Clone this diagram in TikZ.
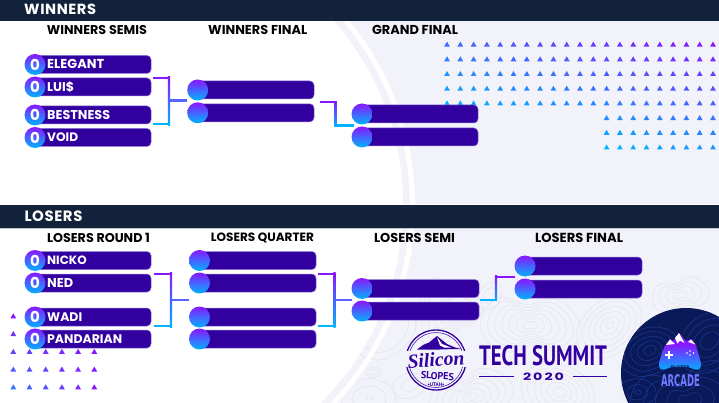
\documentclass[tikz,border=0pt]{standalone}
\usepackage{fontspec}
\setmainfont{Poppins}
\newfontfamily\narrowf{PT Sans}
\newfontfamily\heavyf{DejaVu Sans}
\newfontfamily\scriptf{Liberation Serif}
\newfontfamily\spacedf[LetterSpace=4]{Poppins}
\newfontfamily\widef[LetterSpace=14]{Poppins}
\usetikzlibrary{calc}
\definecolor{navy}{HTML}{12223A}
\definecolor{lav}{HTML}{F2F3FA}
\definecolor{barc}{HTML}{3300A0}
\definecolor{barb}{HTML}{8F78DC}
\definecolor{gpur}{HTML}{8A16FF}
\definecolor{gcya}{HTML}{00B4FF}
\definecolor{gmid}{HTML}{5A62FF}
\definecolor{cont}{HTML}{E0E1EA}
\definecolor{dcont}{HTML}{1E3A9E}
\definecolor{disc}{HTML}{0A1A58}
\tikzset{
  slotbar/.style={draw=barb,line width=.5pt,fill=barc,rounded corners=4pt,inner sep=0pt,outer sep=0pt,minimum height=18pt,anchor=west},
  slotdot/.style={circle,top color=gpur,bottom color=gcya,draw=none,inner sep=0pt,outer sep=0pt,minimum size=21pt},
  scoretxt/.style={text=white,font=\bfseries\fontsize{15}{15}\selectfont,inner sep=0pt},
  nametxt/.style={text=white,anchor=west,inner sep=0pt},
  coltitle/.style={text=black,inner sep=0pt},
  headtxt/.style={text=white,anchor=west,inner sep=0pt},
  wiretop/.style={draw=gpur,line width=2.2pt},
  wirebot/.style={draw=gcya,line width=2.2pt},
  wirestem/.style={draw=gmid,line width=2.2pt},
  contour/.style={draw=cont,line width=.45pt},
  dcontour/.style={draw=dcont,line width=.45pt},
  logoc/.style={text=barc,inner sep=0pt},
}
\newcommand{\fitw}[2]{\resizebox{#1pt}{!}{\bfseries #2}}
% name, circle x, y, bar end x
\newcommand{\slotrow}[4]{%
  \pgfmathsetmacro{\barw}{#4-#2}%
  \node[slotbar,minimum width=\barw pt] (#1) at (#2,#3) {};%
  \node[slotdot] (#1c) at (#2,#3) {};}
% name, y, label, width
\newcommand{\scorerow}[4]{%
  \slotrow{#1}{35}{#2}{151}%
  \node[scoretxt] (#1s) at (35,#2) {0};%
  \node[nametxt] (#1t) at (47,#2-.3) {\fitw{#4}{#3}};}
\newcommand{\tri}[3]{\fill[#3] (#1-2.9,#2+2.3) -- (#1+2.9,#2+2.3) -- (#1,#2-2.7) -- cycle;}
\newcommand{\blob}[4]{\foreach \s in {#4}{\draw[#3,shift={(#1)},rotate=#2,scale=\s] plot[smooth cycle,tension=.8] coordinates{(20,0)(14,11)(-3,16)(-18,10)(-21,-5)(-7,-14)(11,-12)};}}
\newcommand{\blobb}[4]{\foreach \s in {#4}{\draw[#3,shift={(#1)},rotate=#2,scale=\s] plot[smooth cycle,tension=.8] coordinates{(24,-4)(18,8)(4,9)(-8,15)(-22,8)(-19,-8)(-4,-9)(10,-15)};}}
\begin{document}
\begin{tikzpicture}[x=1pt,y=-1pt]
\useasboundingbox (0,0) rectangle (719,403);
\begin{scope}
\clip (0,0) rectangle (719,403);
\fill[lav] (0,0) rectangle (719,403);
% white disc
\fill[white] (124,205) circle (279);
% contours outside disc
\begin{scope}[even odd rule]
\clip (320,272) rectangle (719,403);
\clip (0,0) rectangle (719,403) (124,205) circle (279);
\blob{374,372}{0}{contour}{.2,.35}
\blob{385,330}{30}{contour}{1.2,1.6}
\blobb{448,318}{20}{contour}{.3,.6,.9,1.2,1.5}
\blob{370,398}{0}{contour}{.15,.8,1.3}
\blobb{530,325}{-15}{contour}{.3,.6,.9,1.2,1.5,1.8,2.1}
\blob{610,325}{40}{contour}{.2,.5,.8,1.1,1.4,1.7}
\blobb{470,398}{10}{contour}{.3,.6,.9,1.2,1.5,1.8}
\blob{560,392}{-20}{contour}{.3,.6,.9,1.2,1.5,1.8}
\blob{640,390}{0}{contour}{.3,.6,.9}
\blob{435,298}{80}{contour}{.4,.7,1.0}
\blobb{680,295}{0}{contour}{.3,.6,.9,1.2}
\blob{410,385}{15}{contour}{.4,.8}
\blob{490,295}{60}{contour}{.4,.7}
\end{scope}
% white arc line
\draw[white,line width=5pt] (124,205) circle (288.5);
% arcade disc
\fill[disc] (686,373) circle (65);
\begin{scope}
\clip (686,373) circle (65);
\blob{650,350}{20}{dcontour}{.3,.6,.9,1.2,1.5}
\blobb{690,400}{0}{dcontour}{.5,1,1.5,2,2.6}
\blob{710,340}{40}{dcontour}{.5,.9,1.3,1.7}
\blob{638,392}{0}{dcontour}{.15,.5,.9}
\end{scope}
% header bars
\fill[navy] (0,0) rectangle (719,21);
\fill[white] (0,204) rectangle (719,205);
\fill[navy] (0,205) rectangle (719,228);
\fill[white!75!navy] (0,228) rectangle (719,228.7);
\end{scope}
\node[headtxt] (hw) at (24,9.7) {\resizebox{72pt}{!}{\spacedf\bfseries WINNERS}};
\node[headtxt] (hl) at (24.3,216) {\resizebox{58pt}{!}{\spacedf\bfseries LOSERS}};
% triangle fields
\foreach \r in {0,...,4}{\foreach \c in {0,...,20}{
  \pgfmathsetmacro{\px}{447+13.3*\c}\pgfmathsetmacro{\py}{44.3+14.7*\r}
  \pgfmathsetmacro{\tv}{max(0,min(100,100*((\px-447)/266*.55+(103-\py)/59*.45)))}
  \tri{\px}{\py}{gpur!\tv!gcya}}}
\foreach \r in {5,6,7}{\foreach \c in {12,...,20}{
  \pgfmathsetmacro{\px}{447+13.3*\c}\pgfmathsetmacro{\py}{44.3+14.7*\r}
  \pgfmathsetmacro{\tv}{max(0,min(100,100*((\px-447)/266*.55+(103-\py)/59*.45)))}
  \tri{\px}{\py}{gpur!\tv!gcya}}}
\foreach \r in {0,...,4}{\foreach \c in {0,...,5}{
  \pgfmathsetmacro{\px}{13.3+16.2*\c}\pgfmathsetmacro{\py}{316+17.75*\r}
  \pgfmathsetmacro{\tv}{100-60*(94.3-\px)/81*(\py-316)/71}
  \tri{\px}{\py}{gpur!\tv!gcya}}}
% column titles
\node[coltitle] (t1) at (97,30) {\fitw{100}{WINNERS SEMIS}};
\node[coltitle] (t2) at (257.7,30) {\fitw{99}{WINNERS FINAL}};
\node[coltitle] (t3) at (415,30) {\fitw{86}{GRAND FINAL}};
\node[coltitle] (t4) at (98.5,237.5) {\fitw{103}{LOSERS ROUND 1}};
\node[coltitle] (t5) at (262.5,238.4) {\fitw{103}{LOSERS QUARTER}};
\node[coltitle] (t6) at (414.5,237.5) {\fitw{81}{LOSERS SEMI}};
\node[coltitle] (t7) at (579,237.5) {\fitw{88}{LOSERS FINAL}};
% slots
\scorerow{wa}{64.5}{ELEGANT}{57}
\scorerow{wb}{87}{LUI\$}{27}
\scorerow{wc}{115}{BESTNESS}{63}
\scorerow{wd}{137.5}{VOID}{31}
\slotrow{fa}{197.7}{90}{314}
\slotrow{fb}{197.7}{112.8}{314}
\slotrow{ga}{362}{114}{478}
\slotrow{gb}{362}{137}{478}
\scorerow{la}{260.5}{NICKO}{39.5}
\scorerow{lb}{283}{NED}{26}
\scorerow{lc}{317}{WADI}{35}
\scorerow{ld}{339}{PANDARIAN}{75}
\slotrow{qa}{199.5}{260.5}{316}
\slotrow{qb}{199.5}{283}{316}
\slotrow{qc}{199.5}{317}{316}
\slotrow{qd}{199.5}{339}{316}
\slotrow{sa}{362}{288.5}{479}
\slotrow{sb}{362}{311}{479}
\slotrow{za}{525}{266}{642}
\slotrow{zb}{525}{289}{642}
% connector coordinates
\coordinate (w1) at ($(wb.north east)+(1.5,0)$);
\coordinate (w2) at ($(wc.south east)+(1.5,0)$);
\coordinate (w3) at ($(fac.west)!.5!(fbc.west)+(0,-.8)$);
\coordinate (l1) at ($(lb.north east)+(3,0)$);
\coordinate (l2) at ($(lc.south east)+(3,0)$);
\coordinate (l3) at ($(qbc.west)!.5!(qcc.west)$);
\coordinate (q1) at ($(qb.north east)+(2,0)$);
\coordinate (q2) at ($(qc.south east)+(2,0)$);
\coordinate (q3) at ($(sac.west)!.5!(sbc.west)$);
\coordinate (f1) at ($(fa.south east)!.5!(fb.north east)+(5.5,.8)$);
\coordinate (f2) at ($(gac.west)!.5!(gbc.west)+(2,0)$);
\coordinate (s1) at ($(sa.south east)!.5!(sb.north east)+(1,0)$);
\coordinate (s2) at ($(zac.west)!.5!(zbc.west)+(0,-.8)$);
% bracket: top, bottom, target, spine x
\newcommand{\bracket}[4]{%
  \coordinate (bt) at (#4,0 |- #1);
  \coordinate (bb) at (#4,0 |- #2);
  \coordinate (bm) at (#4,0 |- #3);
  \draw[wirestem] (bm) -- (#3);
  \draw[wiretop] (#1) -- (bt) -- (bm);
  \draw[wirebot] (#2) -- (bb) -- (bm);
  \shade[top color=gpur,bottom color=gcya] ($(bt)+(-1.1,-1.1)$) rectangle ($(bb)+(1.1,1.1)$);}
\bracket{w1}{w2}{w3}{169}
\bracket{l1}{l2}{l3}{171}
\bracket{q1}{q2}{q3}{334.5}
% step connectors
\coordinate (fs) at (335.5,0 |- f1);
\coordinate (fe) at (335.5,0 |- f2);
\draw[wiretop] (f1) -- (fs) -- (fe);
\draw[wirebot] (f2) -- (fe);
\shade[top color=gpur,bottom color=gcya] ($(fs)+(-1.1,-1.1)$) rectangle ($(fe)+(1.1,1.1)$);
\coordinate (ss) at (496,0 |- s1);
\coordinate (se) at (496,0 |- s2);
\draw[wirebot] (s1) -- (ss) -- (se);
\draw[wiretop] (s2) -- (se);
\shade[top color=gpur,bottom color=gcya] ($(se)+(-1.1,-1.1)$) rectangle ($(ss)+(1.1,1.1)$);
% Silicon Slopes logo
\draw[barc,line width=1.3pt] (436,360) circle (30);
\draw[barc,line width=.5pt] (436,360) circle (27.5);
\fill[lav] (404,351) rectangle (469,367);
\fill[barc] (417,349.5) -- (423,345) -- (429,342.5) -- (437,336) -- (447,344) -- (455,347.5) -- (462,349) -- (455,349) -- (440,349.5) -- cycle;
\fill[white] (437,337) -- (442,344) -- (451,347.5) -- (444,347.5) -- (440,345.5) -- cycle;
\node[logoc,rotate=4] (sil) at (436,359.8) {\resizebox{57pt}{!}{\scriptf\bfseries\itshape Silicon}};
\node[logoc,rotate=-3] (slo) at (437.5,376) {\resizebox{33pt}{!}{\narrowf\bfseries SLOPES}};
\node[logoc] (uta) at (436,384.6) {\resizebox{17pt}{!}{\narrowf\bfseries •UTAH•}};
% Tech Summit
\node[logoc] (tech) at (543,356) {\resizebox{128pt}{20pt}{\narrowf\bfseries TECH SUMMIT}};
\node[logoc] (yr) at (543.5,376.8) {\resizebox{41pt}{7.5pt}{\widef\bfseries 2020}};
\coordinate (ll) at (479.3,376.3);
\coordinate (lr) at (607,376.3);
\coordinate (lm) at (514,376.3);
\coordinate (ln) at (572.7,376.3);
\draw[barc,line width=1.2pt] (ll) -- (lm);
\draw[barc,line width=1.2pt] (ln) -- (lr);
% Arcade logo
\fill[gpur] (664,347) -- (670,339) -- (673,341) -- (679,333) -- (686,341) -- (691,339) -- (697,347) -- cycle;
\shade[top color=gpur,bottom color=gcya,rounded corners=4pt] (666,344) -- (695,344) -- (698,352) -- (702,367) -- (697,371) -- (690,367) -- (669,367) -- (663,371) -- (658,367) -- (662,352) -- cycle;
\fill[white] (666,345) -- (670,339.5) -- (675,344) -- cycle;
\fill[white] (675,338) -- (679,333) -- (684.5,343) -- (680,340.5) -- (677.5,343.5) -- cycle;
\fill[white] (688,342) -- (691,339.5) -- (695.5,344.5) -- cycle;
\fill[white] (667.8,351) rectangle (670.2,358.5);
\fill[white] (665.3,353.5) rectangle (672.7,355.9);
\foreach \dx/\dy in {690/351,693.5/353,690/355,687/353}{\fill[white] (\dx,\dy) circle (.9);}
\node[text=disc,inner sep=0pt] (asl) at (680,367.3) {\resizebox{19pt}{!}{\bfseries SLOPES}};
\node[text=gmid!85!white,inner sep=0pt] (arc) at (680.5,380.5) {\resizebox{39pt}{12pt}{\heavyf\bfseries ARCADE}};
\end{tikzpicture}
\end{document}
